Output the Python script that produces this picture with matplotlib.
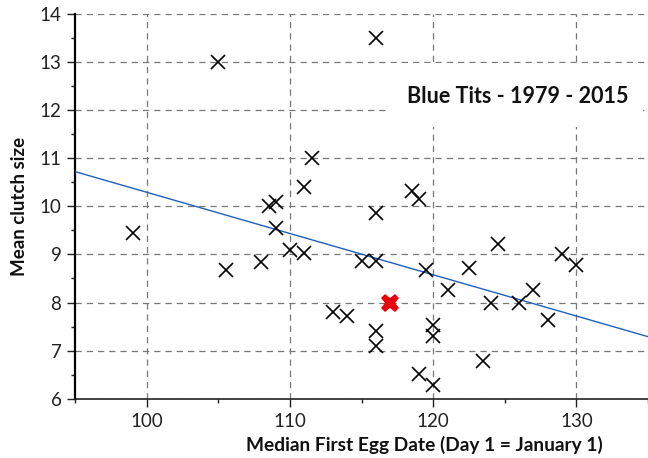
import matplotlib
matplotlib.use("Agg")
import matplotlib.pyplot as plt
from matplotlib.patches import Rectangle
from matplotlib.ticker import MultipleLocator

plt.rcParams['font.family'] = ['Lato', 'DejaVu Sans']

# Data: median first egg date vs mean clutch size (black crosses)
first_egg = [99, 105, 105.5, 108, 108.5, 109, 109, 110, 111, 111, 111.5,
             113, 114, 115, 116, 116, 116, 116, 116, 118.5, 119, 119,
             119.5, 120, 120, 120, 121, 122.5, 124.5, 124, 123.5, 126,
             127, 128, 129, 130]
clutch = [9.45, 13.0, 8.67, 8.85, 10.0, 10.08, 9.55, 9.09, 9.02, 10.4, 11.0,
          7.81, 7.72, 8.86, 8.86, 9.86, 13.5, 7.41, 7.1, 10.32, 10.16, 6.52,
          8.68, 7.53, 7.31, 6.29, 8.25, 8.72, 9.21, 8.0, 6.79, 8.0,
          8.26, 7.63, 9.0, 8.78]

# Highlighted year (red cross)
hl_egg = [117]
hl_clutch = [8.0]

# Trend line endpoints
trend_x = [95, 135]
trend_y = [10.72, 7.29]

x_ticks = [100, 110, 120, 130]
y_ticks = [6, 7, 8, 9, 10, 11, 12, 13, 14]

fig = plt.figure(figsize=(6.48, 4.58), dpi=100)
ax = fig.add_axes([0.1162, 0.1295, 0.8838, 0.84])

ax.set_xlim(95, 135)
ax.set_ylim(6, 14)
ax.set_xticks(x_ticks)
ax.set_yticks(y_ticks)
ax.xaxis.set_minor_locator(MultipleLocator(5))
ax.yaxis.set_minor_locator(MultipleLocator(0.5))

ax.set_axisbelow(True)
ax.grid(True, which='major', color='#777777', linestyle=(0, (5, 4)), linewidth=0.9)

ax.plot(trend_x, trend_y, color='#1f5fbf', linewidth=1.0, zorder=3)
ax.plot(first_egg, clutch, linestyle='none', marker='x', markersize=9.5,
        markeredgewidth=1.2, color='black', zorder=4)
ax.plot(hl_egg, hl_clutch, linestyle='none', marker='X', markersize=13,
        color='#e8000b', markeredgewidth=0, zorder=5)

for s in ['top', 'right']:
    ax.spines[s].set_visible(False)
ax.spines['left'].set_linewidth(1.6)
ax.spines['left'].set_color('black')
ax.spines['bottom'].set_linewidth(1.2)
ax.spines['bottom'].set_color('#222222')

ax.tick_params(which='major', direction='out', length=6, width=1, colors='#222222',
               labelsize=13.5, pad=4)
ax.tick_params(which='minor', direction='out', length=3, width=1, colors='#222222')
for lab in ax.get_xticklabels() + ax.get_yticklabels():
    lab.set_color('#222222')

# title box
ax.add_patch(Rectangle((0.546, 0.706), 0.445, 0.167, transform=ax.transAxes,
                       facecolor='white', edgecolor='none', zorder=2))
ax.text(0.773, 0.785, 'Blue Tits - 1979 - 2015', transform=ax.transAxes,
        ha='center', va='center', fontsize=15.5, fontweight='bold', color='#111111', zorder=6)

ax.set_ylabel('Mean clutch size', fontsize=13.5, fontweight='bold', color='#111111', labelpad=8)
fig.text(424 / 648, 1 - 445 / 458, 'Median First Egg Date (Day 1 = January 1)',
         ha='center', va='center', fontsize=13.8, fontweight='bold', color='#111111')

fig.savefig('out.png', dpi=100)
